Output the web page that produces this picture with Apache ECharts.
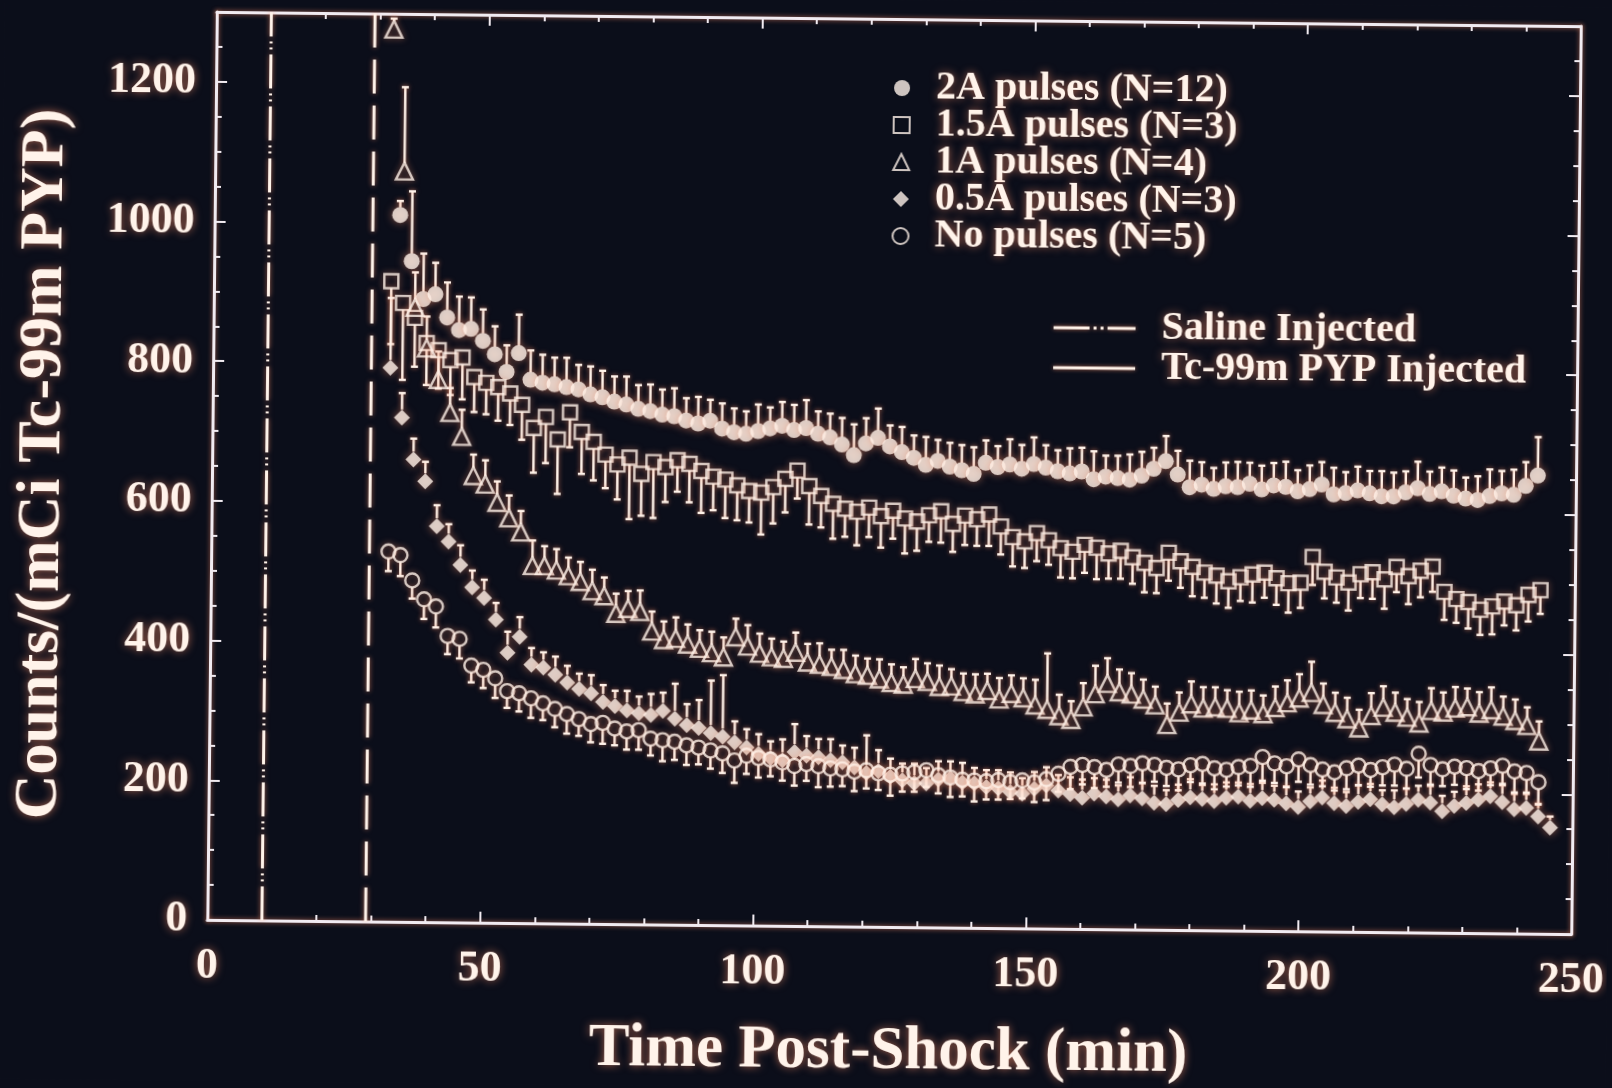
<!DOCTYPE html>
<html>
<head>
<meta charset="utf-8">
<title>Tc-99m PYP uptake after shock</title>
<script src="https://cdn.jsdelivr.net/npm/echarts@6/dist/echarts.min.js"></script>
<style>
  html, body { margin: 0; padding: 0; background: #0b0e1a; overflow: hidden; }
  #chart { width: 1612px; height: 1088px; transform: rotate(0.6deg); transform-origin: 894px 477px; }
</style>
</head>
<body>
<div id="chart"></div>
<script>
// Sampling times (min post-shock)
const TIMES_2A = [34.0, 36.2, 38.4, 40.6, 42.8, 45.0, 47.2, 49.4, 51.6, 53.8, 56.0, 58.2, 60.4, 62.6, 64.8, 67.0, 69.2, 71.4, 73.6, 75.8, 78.0, 80.2, 82.4, 84.6, 86.8, 89.0, 91.2, 93.4, 95.6, 97.8, 100.0, 102.2, 104.4, 106.6, 108.8, 111.0, 113.2, 115.4, 117.6, 119.8, 122.0, 124.2, 126.4, 128.6, 130.8, 133.0, 135.2, 137.4, 139.6, 141.8, 144.0, 146.2, 148.4, 150.6, 152.8, 155.0, 157.2, 159.4, 161.6, 163.8, 166.0, 168.2, 170.4, 172.6, 174.8, 177.0, 179.2, 181.4, 183.6, 185.8, 188.0, 190.2, 192.4, 194.6, 196.8, 199.0, 201.2, 203.4, 205.6, 207.8, 210.0, 212.2, 214.4, 216.6, 218.8, 221.0, 223.2, 225.4, 227.6, 229.8, 232.0, 234.2, 236.4, 238.6, 240.8, 243.0];
const TIMES = [32.5, 34.7, 36.9, 39.1, 41.3, 43.5, 45.7, 47.9, 50.1, 52.3, 54.5, 56.7, 58.9, 61.1, 63.3, 65.5, 67.7, 69.9, 72.1, 74.3, 76.5, 78.7, 80.9, 83.1, 85.3, 87.5, 89.7, 91.9, 94.1, 96.3, 98.5, 100.7, 102.9, 105.1, 107.3, 109.5, 111.7, 113.9, 116.1, 118.3, 120.5, 122.7, 124.9, 127.1, 129.3, 131.5, 133.7, 135.9, 138.1, 140.3, 142.5, 144.7, 146.9, 149.1, 151.3, 153.5, 155.7, 157.9, 160.1, 162.3, 164.5, 166.7, 168.9, 171.1, 173.3, 175.5, 177.7, 179.9, 182.1, 184.3, 186.5, 188.7, 190.9, 193.1, 195.3, 197.5, 199.7, 201.9, 204.1, 206.3, 208.5, 210.7, 212.9, 215.1, 217.3, 219.5, 221.7, 223.9, 226.1, 228.3, 230.5, 232.7, 234.9, 237.1, 239.3, 241.5, 243.7, 245.9];

// Mean counts per group and one-sided error bars
const COUNTS_2A = [1012, 946, 892, 899, 866, 848, 850, 833, 814, 789, 816, 778, 774, 772, 768, 765, 758, 754, 748, 744, 738, 735, 730, 728, 722, 718, 722, 711, 706, 704, 708, 712, 716, 710, 713, 705, 700, 690, 675, 692, 700, 688, 680, 672, 662, 668, 660, 655, 650, 666, 660, 664, 658, 665, 660, 655, 652, 655, 644, 648, 646, 644, 650, 660, 671, 652, 634, 638, 632, 636, 635, 640, 632, 638, 636, 630, 633, 640, 626, 628, 632, 628, 624, 624, 630, 636, 628, 632, 626, 622, 620, 626, 630, 628, 641, 656];
const ERR_2A = [20, 100, 65, 45, 50, 48, 45, 45, 40, 38, 55, 42, 40, 38, 42, 35, 40, 38, 36, 40, 34, 38, 36, 40, 32, 38, 30, 36, 34, 32, 38, 30, 34, 36, 40, 32, 34, 38, 44, 36, 42, 30, 36, 32, 40, 30, 34, 36, 38, 32, 30, 36, 34, 38, 32, 30, 36, 34, 40, 30, 32, 36, 34, 30, 36, 34, 38, 32, 30, 34, 36, 30, 34, 32, 36, 30, 34, 32, 38, 30, 34, 32, 36, 34, 30, 38, 32, 34, 36, 30, 34, 38, 32, 36, 34, 55];

const COUNTS_15A = [917, 886, 865, 829, 819, 805, 809, 781, 773, 767, 758, 742, 709, 725, 693, 732, 704, 690, 672, 658, 668, 645, 662, 655, 665, 660, 650, 642, 638, 630, 622, 620, 628, 640, 652, 630, 616, 605, 598, 594, 600, 588, 596, 585, 581, 590, 596, 578, 590, 585, 592, 575, 560, 554, 566, 556, 545, 540, 550, 546, 538, 542, 533, 525, 518, 540, 528, 520, 512, 508, 500, 506, 510, 513, 505, 498, 499, 536, 515, 507, 500, 512, 515, 505, 523, 510, 518, 524, 488, 478, 474, 463, 468, 475, 470, 485, 492];
const ERR_15A = [90, 110, 70, 60, 55, 50, 60, 50, 45, 48, 45, 50, 64, 66, 78, 50, 60, 55, 48, 50, 88, 60, 80, 50, 45, 55, 60, 48, 55, 50, 45, 60, 52, 48, 40, 55, 45, 50, 40, 48, 42, 45, 40, 50, 42, 38, 45, 40, 42, 38, 45, 40, 42, 38, 40, 35, 42, 38, 40, 45, 36, 40, 38, 42, 36, 40, 38, 42, 36, 40, 38, 34, 40, 36, 38, 42, 36, 40, 38, 36, 40, 34, 38, 42, 36, 40, 38, 36, 40, 34, 38, 36, 40, 34, 36, 38, 34];

const COUNTS_1A = [1278, 1075, 880, 822, 777, 730, 696, 640, 628, 602, 580, 560, 512, 512, 506, 498, 490, 477, 470, 445, 452, 448, 420, 408, 410, 402, 396, 390, 384, 413, 400, 390, 385, 383, 392, 378, 375, 372, 368, 362, 360, 355, 350, 348, 356, 352, 345, 346, 338, 335, 340, 328, 336, 330, 320, 314, 305, 300, 318, 337, 352, 340, 337, 330, 322, 294, 312, 324, 318, 320, 318, 312, 316, 311, 320, 327, 334, 342, 325, 314, 305, 292, 310, 322, 315, 308, 300, 318, 316, 322, 324, 315, 320, 311, 305, 298, 276];
const ERR_1A = [15, 120, 50, 45, 40, 35, 38, 30, 34, 30, 32, 30, 36, 28, 30, 26, 28, 30, 26, 28, 25, 30, 28, 26, 30, 28, 26, 30, 28, 26, 30, 28, 26, 24, 28, 26, 30, 24, 28, 26, 24, 28, 26, 24, 28, 26, 30, 24, 26, 28, 24, 30, 26, 28, 36, 80, 30, 26, 34, 40, 36, 32, 30, 28, 26, 30, 28, 32, 30, 28, 26, 30, 28, 26, 30, 32, 34, 44, 30, 28, 30, 26, 32, 30, 28, 26, 30, 32, 28, 30, 26, 30, 32, 28, 30, 26, 28];

const COUNTS_05A = [793, 722, 662, 631, 567, 545, 512, 480, 465, 434, 387, 410, 370, 366, 356, 345, 336, 330, 318, 312, 306, 302, 300, 306, 295, 286, 282, 275, 270, 262, 255, 246, 240, 237, 249, 244, 242, 238, 235, 228, 220, 223, 215, 210, 206, 206, 212, 214, 208, 207, 202, 200, 195, 193, 200, 205, 198, 193, 188, 194, 190, 186, 192, 188, 182, 180, 186, 190, 188, 185, 190, 192, 186, 190, 188, 183, 178, 186, 192, 184, 180, 186, 190, 183, 179, 184, 190, 186, 174, 182, 186, 191, 196, 188, 178, 180, 168, 152];
const ERR_05A = [100, 35, 30, 28, 30, 25, 28, 24, 26, 24, 30, 28, 24, 22, 26, 24, 22, 26, 24, 22, 28, 24, 30, 26, 50, 30, 40, 75, 88, 30, 26, 28, 24, 30, 40, 28, 26, 30, 24, 28, 54, 30, 26, 24, 28, 22, 26, 24, 28, 22, 24, 26, 28, 22, 24, 26, 22, 24, 26, 22, 24, 20, 26, 22, 24, 20, 22, 26, 20, 24, 22, 20, 24, 22, 20, 24, 22, 20, 24, 22, 20, 24, 22, 20, 24, 22, 20, 24, 22, 20, 24, 22, 20, 24, 22, 20, 18, 16];

const COUNTS_NONE = [530, 525, 489, 462, 452, 410, 406, 368, 362, 350, 332, 329, 322, 315, 307, 300, 293, 286, 288, 280, 276, 278, 266, 264, 262, 257, 254, 250, 246, 236, 243, 240, 238, 234, 229, 232, 229, 226, 225, 222, 224, 220, 218, 220, 222, 225, 218, 215, 212, 211, 210, 212, 209, 212, 209, 214, 222, 232, 235, 232, 228, 236, 234, 238, 236, 232, 230, 236, 238, 232, 230, 234, 236, 249, 240, 236, 246, 238, 232, 228, 234, 238, 232, 236, 240, 234, 256, 240, 234, 238, 236, 232, 236, 240, 232, 230, 217];
const ERR_NONE = [28, 30, 26, 28, 30, 26, 28, 24, 26, 28, 24, 26, 28, 24, 26, 28, 24, 26, 30, 24, 26, 28, 24, 30, 26, 28, 24, 26, 28, 32, 26, 28, 24, 26, 28, 24, 30, 26, 24, 28, 26, 24, 30, 26, 28, 24, 26, 28, 24, 30, 26, 28, 24, 26, 28, 30, 26, 32, 28, 30, 24, 26, 30, 28, 24, 26, 30, 24, 28, 30, 24, 26, 30, 34, 28, 30, 32, 28, 24, 26, 30, 28, 24, 26, 30, 28, 34, 28, 24, 26, 30, 28, 24, 26, 30, 28, 32];

// Injection times (min)
const SALINE_TIME = 10;
const PYP_TIME = 29;

const GROUP_NAMES = ['2A pulses (N=12)', '1.5A pulses (N=3)', '1A pulses (N=4)', '0.5A pulses (N=3)', 'No pulses (N=5)'];
const MARKER_NAMES = ['Saline Injected', 'Tc-99m PYP Injected'];
const X_TITLE = 'Time Post-Shock (min)';
const Y_TITLE = 'Counts/(mCi Tc-99m PYP)';

// ---- styling ----
const INK = '#fff3ea';
const AXIS_INK = '#f1ebf1';
const GLOW = 'rgba(255,145,105,0.65)';
const BG = '#0b0e1a';
const FONT = '"Liberation Serif", "Times New Roman", serif';

// legend keys for the two injection markers: dash-dot-dot and solid
const SALINE_KEY = 'path://M0,0H36V3H0Z M40,0H43V3H40Z M47,0H50V3H47Z M54,0H82V3H54Z';
const PYP_KEY = 'rect';

const textBase = {
  color: INK, fontFamily: FONT, fontWeight: 'bold',
  textShadowColor: GLOW, textShadowBlur: 9
};

function points(times, values) {
  return values.map((v, i) => [times[i], v]);
}
function errPoints(times, values, errs) {
  return values.map((v, i) => [times[i], v, errs[i]]);
}

// one-sided error bar drawn from the marker edge; dir = +1 up, -1 down
function barRenderer(dir, r) {
  return function (params, api) {
    const x = api.value(0), y = api.value(1), e = api.value(2);
    const p0 = api.coord([x, y]);
    const p1 = api.coord([x, y + dir * e]);
    const len = Math.abs(p1[1] - p0[1]);
    if (len <= r + 1) return null;
    const y0 = p0[1] - dir * r;
    const st = { stroke: INK, lineWidth: 2.4, shadowBlur: 5, shadowColor: GLOW };
    return {
      type: 'group',
      children: [
        { type: 'line', shape: { x1: p0[0], y1: y0, x2: p1[0], y2: p1[1] }, style: st },
        { type: 'line', shape: { x1: p1[0] - 3.5, y1: p1[1], x2: p1[0] + 3.5, y2: p1[1] }, style: st }
      ]
    };
  };
}

function errSeries(times, values, errs, dir, r) {
  return {
    type: 'custom',
    silent: true,
    renderItem: barRenderer(dir, r),
    encode: { x: 0, y: 1 },
    data: errPoints(times, values, errs),
    z: 2
  };
}

const filledStyle = { color: INK, shadowBlur: 9, shadowColor: GLOW };
const openStyle = { color: 'rgba(0,0,0,0)', borderColor: INK, borderWidth: 2.4, shadowBlur: 6, shadowColor: GLOW };

const groups = [
  { name: GROUP_NAMES[0], times: TIMES_2A, values: COUNTS_2A, errs: ERR_2A, dir: 1, symbol: 'circle', size: 16, style: filledStyle, r: 7.5 },
  { name: GROUP_NAMES[1], times: TIMES, values: COUNTS_15A, errs: ERR_15A, dir: -1, symbol: 'rect', size: 14, style: openStyle, r: 7 },
  { name: GROUP_NAMES[2], times: TIMES, values: COUNTS_1A, errs: ERR_1A, dir: 1, symbol: 'triangle', size: 17, style: openStyle, r: 8 },
  { name: GROUP_NAMES[3], times: TIMES, values: COUNTS_05A, errs: ERR_05A, dir: 1, symbol: 'diamond', size: 16, style: filledStyle, r: 8 },
  { name: GROUP_NAMES[4], times: TIMES, values: COUNTS_NONE, errs: ERR_NONE, dir: -1, symbol: 'circle', size: 14, style: openStyle, r: 7 }
];

const series = [];

// injection markers
series.push({
  name: MARKER_NAMES[0], type: 'line', symbol: 'none', silent: true, z: 1,
  data: [[SALINE_TIME, 0], [SALINE_TIME, 1300]],
  itemStyle: { color: INK },
  lineStyle: { color: INK, width: 3, type: [34, 5, 2, 4, 2, 5], shadowBlur: 5, shadowColor: GLOW }
});
series.push({
  name: MARKER_NAMES[1], type: 'line', symbol: 'none', silent: true, z: 1,
  data: [[PYP_TIME, 0], [PYP_TIME, 1300]],
  itemStyle: { color: INK },
  lineStyle: { color: INK, width: 3, type: [34, 12], shadowBlur: 5, shadowColor: GLOW }
});

groups.forEach(g => {
  series.push(errSeries(g.times, g.values, g.errs, g.dir, g.r));
  series.push({
    name: g.name, type: 'scatter', symbol: g.symbol, symbolSize: g.size,
    data: points(g.times, g.values), itemStyle: g.style, z: 3, silent: true
  });
});

const axisLineStyle = { color: AXIS_INK, width: 3, shadowBlur: 5, shadowColor: GLOW };
const tickStyle = { color: AXIS_INK, width: 2 };
const plainNumber = v => String(v);

function xAxisDef(pos, withLabels) {
  return {
    type: 'value', position: pos, min: 0, max: 250, interval: 50,
    axisLine: { show: true, onZero: false, lineStyle: axisLineStyle },
    axisTick: { show: true, inside: true, length: 11, lineStyle: tickStyle },
    minorTick: { show: true, splitNumber: 5, length: 6, lineStyle: tickStyle },
    splitLine: { show: false },
    axisLabel: Object.assign({ show: withLabels, margin: 25, fontSize: 44, formatter: plainNumber }, textBase),
    name: withLabels ? X_TITLE : '',
    nameLocation: 'middle', nameGap: 95,
    nameTextStyle: Object.assign({ fontSize: 61 }, textBase)
  };
}
function yAxisDef(pos, withLabels) {
  return {
    type: 'value', position: pos, min: 0, max: 1300, interval: 200,
    axisLine: { show: true, onZero: false, lineStyle: axisLineStyle },
    axisTick: { show: true, inside: true, length: 11, lineStyle: tickStyle },
    minorTick: { show: true, splitNumber: 4, length: 6, lineStyle: tickStyle },
    splitLine: { show: false },
    axisLabel: Object.assign({ show: withLabels, margin: 20, fontSize: 44, showMaxLabel: false, formatter: plainNumber }, textBase),
    name: withLabels ? Y_TITLE : '',
    nameLocation: 'middle', nameGap: 138,
    nameTextStyle: Object.assign({ fontSize: 62 }, textBase)
  };
}

const option = {
  backgroundColor: BG,
  animation: false,
  grid: { left: 212, top: 19, width: 1368, height: 922 },
  xAxis: [xAxisDef('bottom', true), xAxisDef('top', false)],
  yAxis: [yAxisDef('left', true), yAxisDef('right', false)],
  legend: [
    {
      data: GROUP_NAMES, orient: 'vertical', left: 884, top: 63,
      itemWidth: 16, itemHeight: 16, itemGap: -3, selectedMode: false,
      textStyle: Object.assign({ fontSize: 40, padding: [0, 0, 0, 21] }, textBase)
    },
    {
      data: [
        { name: MARKER_NAMES[0], icon: SALINE_KEY },
        { name: MARKER_NAMES[1], icon: PYP_KEY }
      ],
      orient: 'vertical', left: 1047, top: 301,
      itemWidth: 82, itemHeight: 3, itemGap: 0, selectedMode: false,
      itemStyle: { color: INK, shadowBlur: 4, shadowColor: GLOW },
      textStyle: Object.assign({ fontSize: 40, padding: [0, 0, 0, 21] }, textBase)
    }
  ],
  series: series
};

const chart = echarts.init(document.getElementById('chart'), null, { renderer: 'canvas' });
chart.setOption(option);
</script>
</body>
</html>
